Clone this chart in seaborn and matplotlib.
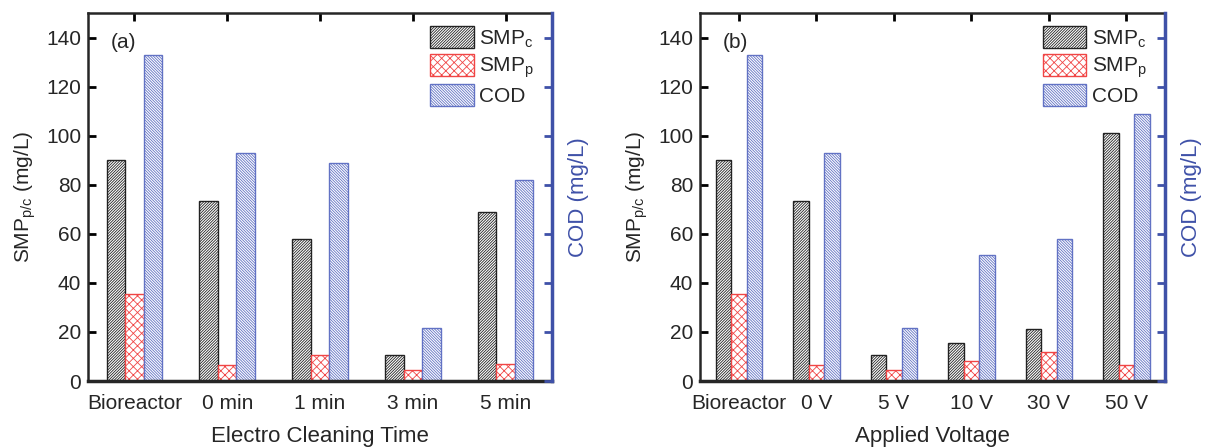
import matplotlib
matplotlib.use("Agg")
import matplotlib.pyplot as plt
import seaborn as sns
import pandas as pd
from matplotlib.patches import Patch

# ---- data ----
cats_a = ["Bioreactor", "0 min", "1 min", "3 min", "5 min"]
smpc_a = [90, 73.5, 58, 10.5, 69]
smpp_a = [35.5, 6.5, 10.5, 4.5, 7]
cod_a = [133, 93, 89, 21.5, 82]

cats_b = ["Bioreactor", "0 V", "5 V", "10 V", "30 V", "50 V"]
smpc_b = [90, 73.5, 10.5, 15.5, 21, 101]
smpp_b = [35.5, 6.5, 4.5, 8, 12, 6.5]
cod_b = [133, 93, 21.5, 51.5, 58, 109]

series = ["SMPc", "SMPp", "COD"]
yticks = [0, 20, 40, 60, 80, 100, 120, 140]

sns.set_style("ticks")
plt.rcParams['font.family'] = ['Liberation Sans', 'DejaVu Sans']
plt.rcParams['hatch.linewidth'] = 0.6

BLUE = "#3f51a8"
edge = {"SMPc": "#222222", "SMPp": "#f04545", "COD": "#6272c4"}
hatch = {"SMPc": "/" * 12, "SMPp": "xxxx", "COD": "\\" * 12}
leg_labels = {"SMPc": r"SMP$_\mathregular{c}$", "SMPp": r"SMP$_\mathregular{p}$", "COD": "COD"}

fig = plt.figure(figsize=(12.07, 4.48), dpi=100)
W, H = 1207, 448
ax1 = fig.add_axes([88 / W, 1 - 381 / H, (552 - 88) / W, (381 - 13) / H])
ax2 = fig.add_axes([700 / W, 1 - 381 / H, (1165 - 700) / W, (381 - 13) / H])


def panel(ax, cats, c, p, d, xlabel, tag):
    df = pd.DataFrame({
        "cat": cats * 3,
        "series": ["SMPc"] * len(cats) + ["SMPp"] * len(cats) + ["COD"] * len(cats),
        "val": list(c) + list(p) + list(d),
    })
    sns.barplot(data=df, x="cat", y="val", hue="series", hue_order=series,
                order=cats, width=0.6, ax=ax, legend=False, gap=0,
                err_kws={"linewidth": 0})
    n = len(cats)
    for i, patch in enumerate(ax.patches[:3 * n]):
        s = series[i // n]
        patch.set_facecolor("white")
        patch.set_edgecolor(edge[s])
        patch.set_hatch(hatch[s])
        patch.set_linewidth(1.0)
    ax.set_xlim(-0.5, n - 0.5)
    ax.set_ylim(0, 150)
    ax.set_yticks(yticks)
    ax.set_xlabel(xlabel, fontsize=16, labelpad=10)
    ax.set_ylabel(r"SMP$_\mathregular{p/c}$ (mg/L)", fontsize=15, labelpad=6)
    ax.tick_params(axis="both", direction="in", labelsize=15, length=6, width=2,
                   top=True, right=False, color="black")
    ax.tick_params(axis="x", pad=9)
    ax.tick_params(axis="y", pad=5)
    for sp in ["left", "top"]:
        ax.spines[sp].set_linewidth(1.8)
    ax.spines["bottom"].set_linewidth(2.5)
    ax.spines["right"].set_visible(False)

    tw = ax.twinx()
    tw.set_ylim(0, 150)
    tw.set_yticks(yticks)
    tw.set_yticklabels([])
    tw.tick_params(axis="y", direction="in", length=6, width=2, colors=BLUE)
    tw.spines["right"].set_color(BLUE)
    tw.spines["right"].set_linewidth(2.5)
    for sp in ["left", "top", "bottom"]:
        tw.spines[sp].set_visible(False)
    tw.set_ylabel("COD (mg/L)", fontsize=16, color=BLUE, labelpad=8)

    ax.text(0.05, 0.92, tag, transform=ax.transAxes, fontsize=15, va="center")

    handles = [Patch(facecolor="white", edgecolor=edge[s], hatch=hatch[s],
                     label=leg_labels[s]) for s in series]
    ax.legend(handles=handles, loc="upper left", frameon=False, fontsize=15,
              handlelength=2.1, handleheight=1.25, labelspacing=0.2,
              handletextpad=0.25, borderaxespad=0, borderpad=0,
              bbox_to_anchor=(0.737, 0.965))


panel(ax1, cats_a, smpc_a, smpp_a, cod_a, "Electro Cleaning Time", "(a)")
panel(ax2, cats_b, smpc_b, smpp_b, cod_b, "Applied Voltage", "(b)")

fig.savefig("out.png", dpi=100)
